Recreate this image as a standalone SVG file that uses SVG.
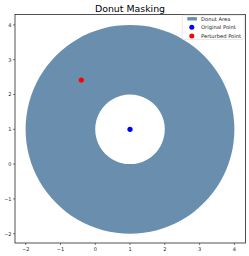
<svg xmlns="http://www.w3.org/2000/svg" width="249" height="256" viewBox="0 0 249 256">
<style>
.t{font-family:"DejaVu Sans",sans-serif;font-size:5px;fill:#262626}
.lt{font-family:"DejaVu Sans",sans-serif;font-size:5.2px;fill:#262626}
.ax{stroke:#262626;stroke-width:0.8;fill:none}
.tk{stroke:#262626;stroke-width:0.6}
</style>
<rect width="249" height="256" fill="#fff"/>
<g id="donut">
<path d="M130,24.9 A104.4,104.4 0 1 1 129.99,24.9 Z M130,94.5 A34.8,34.8 0 1 0 130.01,94.5 Z" fill="#6a8fae" fill-rule="evenodd"/>
</g>
<g id="original-point"><circle cx="130" cy="129.3" r="2.6" fill="#0000ff"/></g>
<g id="perturbed-point"><circle cx="81.3" cy="80" r="2.6" fill="#ff0000"/></g>
<g id="axes">
<rect class="ax" x="15" y="14.5" width="230.5" height="228.5"/>
<g class="tk">
<line x1="25.7" y1="243" x2="25.7" y2="245"/><line x1="60.5" y1="243" x2="60.5" y2="245"/><line x1="95.3" y1="243" x2="95.3" y2="245"/><line x1="130" y1="243" x2="130" y2="245"/><line x1="164.8" y1="243" x2="164.8" y2="245"/><line x1="199.6" y1="243" x2="199.6" y2="245"/><line x1="234.4" y1="243" x2="234.4" y2="245"/>
<line x1="13" y1="24.9" x2="15" y2="24.9"/><line x1="13" y1="59.7" x2="15" y2="59.7"/><line x1="13" y1="94.5" x2="15" y2="94.5"/><line x1="13" y1="129.3" x2="15" y2="129.3"/><line x1="13" y1="164.1" x2="15" y2="164.1"/><line x1="13" y1="198.9" x2="15" y2="198.9"/><line x1="13" y1="233.7" x2="15" y2="233.7"/>
</g>
<g class="t" text-anchor="middle">
<text x="25.7" y="251">−2</text><text x="60.5" y="251">−1</text><text x="95.3" y="251">0</text><text x="130" y="251">1</text><text x="164.8" y="251">2</text><text x="199.6" y="251">3</text><text x="234.4" y="251">4</text>
</g>
<g class="t" text-anchor="end">
<text x="11.5" y="26.7">4</text><text x="11.5" y="61.5">3</text><text x="11.5" y="96.3">2</text><text x="11.5" y="131.1">1</text><text x="11.5" y="165.9">0</text><text x="11.5" y="200.7">−1</text><text x="11.5" y="235.5">−2</text>
</g>
</g>
<text x="130" y="11.5" text-anchor="middle" font-family="DejaVu Sans,sans-serif" font-size="9.4" fill="#000">Donut Masking</text>
<g id="legend">
<rect x="182.2" y="15.2" width="62" height="24.2" rx="1" fill="#fff" fill-opacity="0.8" stroke="#cccccc" stroke-width="0.5"/>
<rect x="187.3" y="17.1" width="9.6" height="3.4" fill="#6a8fae"/>
<circle cx="191.8" cy="27.3" r="2.5" fill="#0000ff"/>
<circle cx="191.8" cy="36" r="2.5" fill="#ff0000"/>
<text class="lt" x="201" y="20.6">Donut Area</text>
<text class="lt" x="201" y="29.2">Original Point</text>
<text class="lt" x="201" y="37.9">Perturbed Point</text>
</g>
</svg>
